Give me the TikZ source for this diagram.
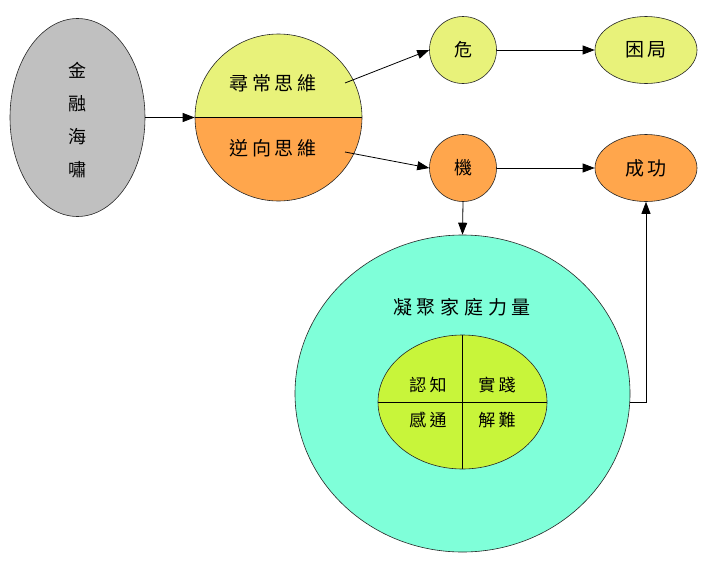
\documentclass[tikz,border=0pt]{standalone}
\usepackage{fontspec}
\usetikzlibrary{arrows.meta,shapes.geometric}
\newfontfamily\cjk{Noto Sans CJK TC}
\newfontfamily\cjkw[LetterSpace=18]{Noto Sans CJK TC}
\newfontfamily\cjkww[LetterSpace=25]{Noto Sans CJK TC}
\definecolor{cgray}{HTML}{C0C0C0}
\definecolor{cyellow}{HTML}{E8F27A}
\definecolor{corange}{HTML}{FFA64C}
\definecolor{cteal}{HTML}{7FFFD9}
\definecolor{clime}{HTML}{C8F53A}
\begin{document}
\begin{tikzpicture}[x=1pt,y=-1pt,
  shapeline/.style={draw=black!85, line width=0.6pt, inner sep=0pt},
  arr/.style={draw=black, line width=0.8pt, -{Triangle[length=12pt,width=9pt]}},
  lbl/.style={font=\cjk\fontsize{18}{20}\selectfont},
  lblw/.style={font=\cjkw\fontsize{19}{20}\selectfont},
  lblww/.style={font=\cjkww\fontsize{19}{20}\selectfont},
  lbls/.style={font=\cjkw\fontsize{17}{20}\selectfont}]
\useasboundingbox (0,0) rectangle (715,565);
\fill[white] (0,0) rectangle (715,565);

% gray ellipse
\node[ellipse, shapeline, fill=cgray, minimum width=135pt, minimum height=198pt] (gray) at (77.5,117.5) {};
\node[align=center, font=\cjk\fontsize{18}{33}\selectfont] (graytxt) at (77.5,120) {金\\融\\海\\嘯};

% split circle
\node[circle, shapeline, minimum size=167pt,
  path picture={
    \fill[cyellow] (path picture bounding box.north west) rectangle (path picture bounding box.east);
    \fill[corange] (path picture bounding box.west) rectangle (path picture bounding box.south east);
    \draw[black, line width=0.8pt] (path picture bounding box.west) -- (path picture bounding box.east);
  }] (think) at (278.5,117.5) {};
\node[lblw] (t1) at (273,83) {尋常思維};
\node[lblw] (t2) at (273,148) {逆向思維};
\coordinate (s1) at (345,83);
\coordinate (s2) at (345,152);

% small nodes
\node[circle, shapeline, fill=cyellow, minimum size=67pt, lbl] (wei) at (463,50) {危};
\node[ellipse, shapeline, fill=cyellow, minimum width=102pt, minimum height=67pt, lblw] (kun) at (646,50) {困局};
\node[circle, shapeline, fill=corange, minimum size=67pt, lbl] (ji) at (463,168) {機};
\node[ellipse, shapeline, fill=corange, minimum width=102pt, minimum height=67pt, lblw] (cg) at (646,168) {成功};

% teal circle
\node[ellipse, shapeline, fill=cteal, minimum width=335pt, minimum height=317pt] (teal) at (462.5,393.5) {};
\node[lblww] (tealtxt) at (462,307) {凝聚家庭力量};

% inner ellipse
\node[ellipse, shapeline, fill=clime, minimum width=169pt, minimum height=134pt,
  path picture={
    \draw[black, line width=0.8pt] (path picture bounding box.west) -- (path picture bounding box.east);
    \draw[black, line width=0.8pt] (path picture bounding box.north) -- (path picture bounding box.south);
  }] (inner) at (462.5,402) {};
\node[lbls] (q1) at (428,385) {認知};
\node[lbls] (q2) at (497,385) {實踐};
\node[lbls] (q3) at (428,420) {感通};
\node[lbls] (q4) at (497,420) {解難};

% connectors
\draw[arr] (gray.east) -- (think.west);
\draw[arr] (s1) -- (wei.west);
\draw[arr] (s2) -- (ji.west);
\draw[arr] (wei.east) -- (kun.west);
\draw[arr] (ji.east) -- (cg.west);
\draw[arr] (ji.south) -- (teal.north);
\coordinate (te) at (629.5,402);
\draw[arr] (te) -| (cg.south);
\end{tikzpicture}
\end{document}
